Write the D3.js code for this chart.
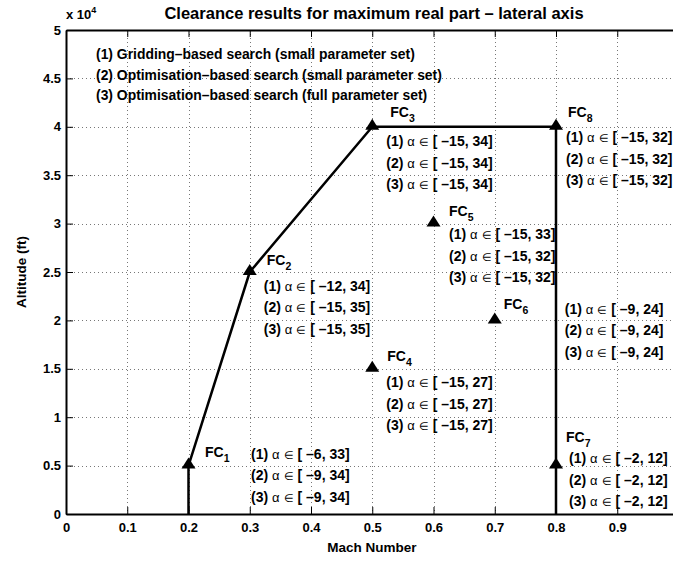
<!DOCTYPE html>
<html>
<head>
<meta charset="utf-8">
<script src="https://cdn.jsdelivr.net/npm/d3@7"></script>
<style>
body { margin: 0; background: #fff; }
text { font-family: "Liberation Sans", Arial, Helvetica, sans-serif; font-weight: bold; fill: #000; }
</style>
</head>
<body>
<div id="chart"></div>
<script>
var machTicks = [0, 0.1, 0.2, 0.3, 0.4, 0.5, 0.6, 0.7, 0.8, 0.9, 1];
var machTickLabels = ["0", "0.1", "0.2", "0.3", "0.4", "0.5", "0.6", "0.7", "0.8", "0.9", ""];
var altTicks = [0, 5000, 10000, 15000, 20000, 25000, 30000, 35000, 40000, 45000, 50000];
var altTickLabels = ["0", "0.5", "1", "1.5", "2", "2.5", "3", "3.5", "4", "4.5", "5"];

// flight envelope boundary
var boundaryMach = [0.2, 0.2, 0.3, 0.5, 0.8, 0.8];
var boundaryAlt = [0, 5000, 25000, 40000, 40000, 0];

// flight conditions
var fcNames = ["1", "2", "3", "4", "5", "6", "7", "8"];
var fcMach = [0.2, 0.3, 0.5, 0.5, 0.6, 0.7, 0.8, 0.8];
var fcAlt = [5000, 25000, 40000, 15000, 30000, 20000, 5000, 40000];

// alpha clearance intervals (1),(2),(3) per flight condition
var alphaLow = [[-6, -9, -9], [-12, -15, -15], [-15, -15, -15], [-15, -15, -15],
                [-15, -15, -15], [-9, -9, -9], [-2, -2, -2], [-15, -15, -15]];
var alphaHigh = [[33, 34, 34], [34, 35, 35], [34, 34, 34], [27, 27, 27],
                 [33, 32, 32], [24, 24, 24], [12, 12, 12], [32, 32, 32]];

var legendLines = ["(1) Gridding\u2013based search (small parameter set)",
                   "(2) Optimisation\u2013based search (small parameter set)",
                   "(3) Optimisation\u2013based search (full parameter set)"];

// label placement, pixel offsets from each marker
var nameOffset = [[16.5, -9], [17, -7.5], [18, -9.5], [15, -7.5], [15.5, -7.5], [9, -11.5], [10, -23.5], [12, -9.5]];
var blockOffset = [[62.5, -7], [14, 18.5], [14, 19.5], [14, 18.5], [15.5, 15.5], [70, -6.5], [13, -2.5], [10, 15.5]];

var width = 673, height = 563;
var margin = {top: 30, left: 66},
    width_g = 612.5,
    height_g = 484;

var svg = d3.select("#chart").append("svg")
    .attr("width", width)
    .attr("height", height);

var x = d3.scaleLinear().domain([0, 1]).range([0, width_g]);
var y = d3.scaleLinear().domain([0, 50000]).range([height_g, 0]);

var frg = svg.append("g")
    .attr("transform", "translate(" + margin.left + "," + margin.top + ")");

// dotted grid
var grid = frg.append("g").attr("class", "grid")
    .attr("stroke", "#777").attr("stroke-width", 1).attr("stroke-dasharray", "1,3");
grid.selectAll(".gx").data(machTicks.slice(1, -1)).enter().append("line")
    .attr("x1", function (d) { return Math.round(x(d)) + 0.5; })
    .attr("x2", function (d) { return Math.round(x(d)) + 0.5; })
    .attr("y1", 0).attr("y2", height_g);
grid.selectAll(".gy").data(altTicks.slice(1, -1)).enter().append("line")
    .attr("y1", function (d) { return Math.round(y(d)) + 0.5; })
    .attr("y2", function (d) { return Math.round(y(d)) + 0.5; })
    .attr("x1", 0).attr("x2", width_g);

// axes
var xAxis = d3.axisBottom(x).tickValues(machTicks).tickSize(-7).tickSizeOuter(0).tickPadding(9)
    .tickFormat(function (d, i) { return machTickLabels[i]; });
var xAxisTop = d3.axisTop(x).tickValues(machTicks).tickSize(-7).tickSizeOuter(0).tickFormat("");
var yAxis = d3.axisLeft(y).tickValues(altTicks).tickSize(-7).tickSizeOuter(0).tickPadding(5)
    .tickFormat(function (d, i) { return altTickLabels[i]; });

function styleAxis(g) {
    g.select(".domain").attr("stroke", "#000").attr("stroke-width", 2);
    g.selectAll(".tick line").attr("stroke", "#000").attr("stroke-width", 1);
    g.selectAll(".tick text").attr("font-size", 13).attr("fill", "#000")
        .style("font-family", '"Liberation Sans", Arial, sans-serif').style("font-weight", "bold");
}

frg.append("g").attr("transform", "translate(0," + height_g + ")").call(xAxis).call(styleAxis);
frg.append("g").call(xAxisTop).call(styleAxis);
frg.append("g").call(yAxis).call(styleAxis);

// exponent label
var expo = frg.append("text").attr("x", 0).attr("y", -11).attr("font-size", 13);
expo.append("tspan").text("x 10");
expo.append("tspan").attr("dy", -6).attr("font-size", 9).text("4");

// envelope boundary
var line = d3.line()
    .x(function (d, i) { return x(boundaryMach[i]); })
    .y(function (d, i) { return y(boundaryAlt[i]); });
frg.append("path")
    .attr("d", line(boundaryMach))
    .attr("fill", "none")
    .attr("stroke", "#000")
    .attr("stroke-width", 2.5)
    .attr("stroke-linejoin", "round");

// markers
frg.selectAll(".fc").data(fcNames).enter().append("path")
    .attr("class", "fc")
    .attr("transform", function (d, i) { return "translate(" + x(fcMach[i]) + "," + y(fcAlt[i]) + ")"; })
    .attr("d", "M0,-8L7,3L-7,3Z")
    .attr("fill", "#000");

// FC labels
var names = frg.selectAll(".fcname").data(fcNames).enter().append("text")
    .attr("class", "fcname")
    .attr("x", function (d, i) { return x(fcMach[i]) + nameOffset[i][0]; })
    .attr("y", function (d, i) { return y(fcAlt[i]) + nameOffset[i][1]; })
    .attr("font-size", 14);
names.append("tspan").text("FC");
names.append("tspan").attr("dy", 5).attr("font-size", 10.5).text(function (d) { return d; });

// clearance intervals
fcNames.forEach(function (n, i) {
    for (var k = 0; k < 3; k++) {
        var t = frg.append("text")
            .attr("x", x(fcMach[i]) + blockOffset[i][0])
            .attr("y", y(fcAlt[i]) + blockOffset[i][1] + k * 21.5)
            .attr("font-size", 14)
            .style("white-space", "pre");
        t.append("tspan").text("(" + (k + 1) + ") ");
        t.append("tspan").style("font-weight", "normal").attr("font-size", 13).text("\u03b1");
        t.append("tspan").style("font-weight", "normal").attr("font-size", 11).attr("dx", 4).text("\u2208");
        t.append("tspan").attr("dx", 4).text("[ \u2013" + Math.abs(alphaLow[i][k]) + ", " + alphaHigh[i][k] + "]");
    }
});

// legend text
frg.selectAll(".legend").data(legendLines).enter().append("text")
    .attr("x", 30)
    .attr("y", function (d, i) { return 29 + i * 20.5; })
    .attr("font-size", 13.9)
    .text(function (d) { return d; });

// title and axis labels
svg.append("text")
    .attr("x", margin.left + 308)
    .attr("y", 19)
    .attr("text-anchor", "middle")
    .attr("font-size", 16.5)
    .text("Clearance results for maximum real part \u2013 lateral axis");

svg.append("text")
    .attr("x", margin.left + 306)
    .attr("y", 552)
    .attr("text-anchor", "middle")
    .attr("font-size", 13.5)
    .text("Mach Number");

svg.append("text")
    .attr("transform", "translate(26," + (margin.top + height_g / 2) + ") rotate(-90)")
    .attr("text-anchor", "middle")
    .attr("font-size", 13.5)
    .text("Altitude (ft)");
</script>
</body>
</html>
